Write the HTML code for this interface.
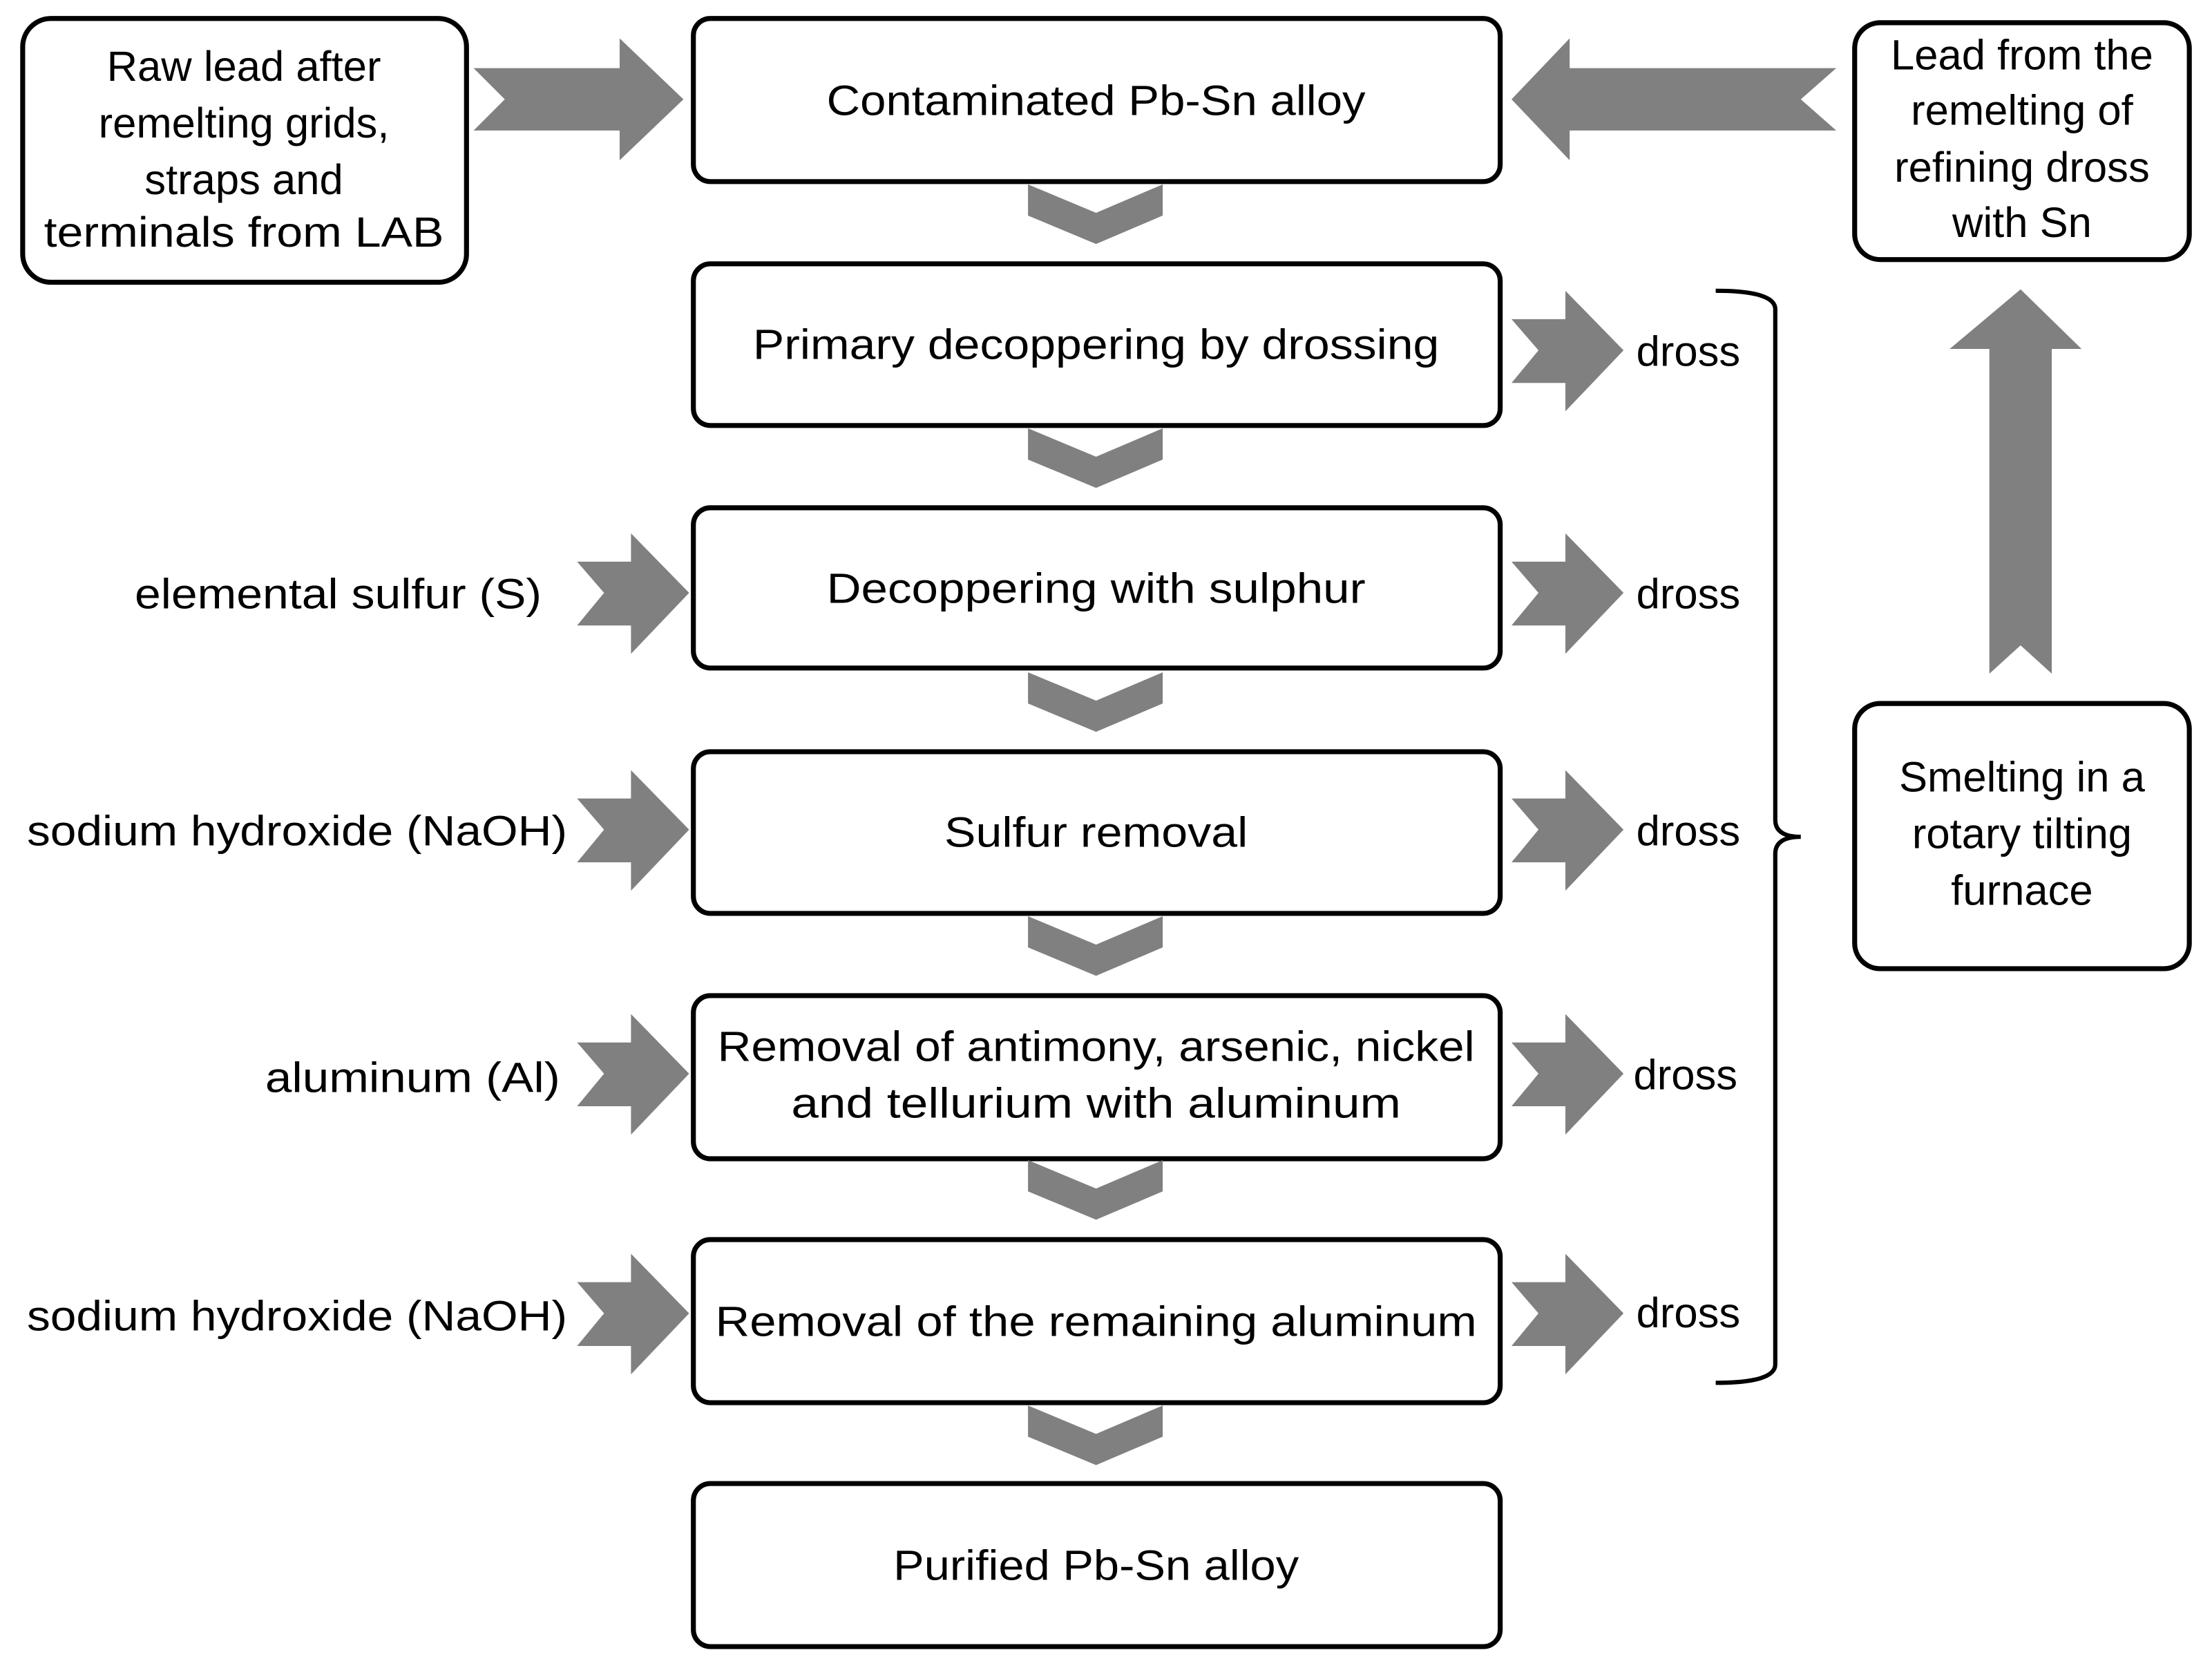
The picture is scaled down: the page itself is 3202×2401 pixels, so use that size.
<!DOCTYPE html>
<html><head><meta charset="utf-8"><style>
html,body{margin:0;padding:0;background:#fff;}
svg{display:block;}
text{font-family:"Liberation Sans",sans-serif;font-size:30px;fill:#000;}
</style></head><body>
<svg width="3202" height="2401" viewBox="0 0 1560 1169.7" xmlns="http://www.w3.org/2000/svg">
<rect width="1560" height="1170" fill="#fff"/>
<g fill="none" stroke="#000" stroke-width="3.5">
<rect x="16" y="13" width="313" height="186" rx="20"/>
<rect x="1308" y="16" width="236" height="167" rx="18"/>
<rect x="1308" y="496" width="236" height="187" rx="18"/>
<rect x="489" y="13" width="569" height="115" rx="12"/>
<rect x="489" y="186" width="569" height="114" rx="12"/>
<rect x="489" y="358" width="569" height="113" rx="12"/>
<rect x="489" y="530" width="569" height="114" rx="12"/>
<rect x="489" y="702" width="569" height="115" rx="12"/>
<rect x="489" y="874" width="569" height="115" rx="12"/>
<rect x="489" y="1046" width="569" height="115" rx="12"/>
<path d="M1210 205 Q1252 205 1252 218 L1252 578 Q1252 590 1270 590 Q1252 590 1252 602 L1252 962 Q1252 975 1210 975" stroke-width="3"/>
</g>
<g fill="#808080">
<polygon points="334,48 437,48 437,27 482,70 437,113 437,92 334,92 356,70"/>
<polygon points="1066,70 1107,27 1107,48 1295,48 1270,70 1295,92 1107,92 1107,113"/>
<polygon points="1375,246 1425,204 1468,246 1447,246 1447,475 1425,455 1403,475 1403,246"/>
<g id="ch"><polygon points="725,130 773,150 820,130 820,152 773,172 725,152"/></g>
<use href="#ch" y="172"/><use href="#ch" y="344"/><use href="#ch" y="516"/><use href="#ch" y="688"/><use href="#ch" y="861"/>
<g id="ar"><polygon points="1066,225 1104,225 1104,205 1145,247 1104,290 1104,270 1066,270 1085,247"/></g>
<use href="#ar" y="171"/><use href="#ar" y="338"/><use href="#ar" y="510"/><use href="#ar" y="679"/>
<use href="#ar" x="-659" y="171"/><use href="#ar" x="-659" y="338"/><use href="#ar" x="-659" y="510"/><use href="#ar" x="-659" y="679"/>
</g>
<g text-anchor="middle">
<text x="172" y="57">Raw lead after</text>
<text x="172" y="97">remelting grids,</text>
<text x="172" y="137">straps and</text>
<text x="172" y="174" textLength="282" lengthAdjust="spacingAndGlyphs">terminals from LAB</text>
<text x="1426" y="49">Lead from the</text>
<text x="1426" y="88">remelting of</text>
<text x="1426" y="128">refining dross</text>
<text x="1426" y="167">with Sn</text>
<text x="1426" y="558">Smelting in a</text>
<text x="1426" y="598">rotary tilting</text>
<text x="1426" y="638">furnace</text>
<text x="773" y="81" textLength="380" lengthAdjust="spacingAndGlyphs">Contaminated Pb-Sn alloy</text>
<text x="773" y="253" textLength="484" lengthAdjust="spacingAndGlyphs">Primary decoppering by drossing</text>
<text x="773" y="425" textLength="380" lengthAdjust="spacingAndGlyphs">Decoppering with sulphur</text>
<text x="773" y="597" textLength="214" lengthAdjust="spacingAndGlyphs">Sulfur removal</text>
<text x="773" y="748" textLength="534" lengthAdjust="spacingAndGlyphs">Removal of antimony, arsenic, nickel</text>
<text x="773" y="788" textLength="430" lengthAdjust="spacingAndGlyphs">and tellurium with aluminum</text>
<text x="773" y="942" textLength="537" lengthAdjust="spacingAndGlyphs">Removal of the remaining aluminum</text>
<text x="773" y="1114" textLength="286" lengthAdjust="spacingAndGlyphs">Purified Pb-Sn alloy</text>
</g>
<g text-anchor="end">
<text x="382" y="429" textLength="287" lengthAdjust="spacingAndGlyphs">elemental sulfur (S)</text>
<text x="400" y="596" textLength="381" lengthAdjust="spacingAndGlyphs">sodium hydroxide (NaOH)</text>
<text x="395" y="770" textLength="208" lengthAdjust="spacingAndGlyphs">aluminum (Al)</text>
<text x="400" y="938" textLength="381" lengthAdjust="spacingAndGlyphs">sodium hydroxide (NaOH)</text>
</g>
<g>
<text x="1154" y="258">dross</text>
<text x="1154" y="429">dross</text>
<text x="1154" y="596">dross</text>
<text x="1152" y="768">dross</text>
<text x="1154" y="936">dross</text>
</g>
</svg>
</body></html>
